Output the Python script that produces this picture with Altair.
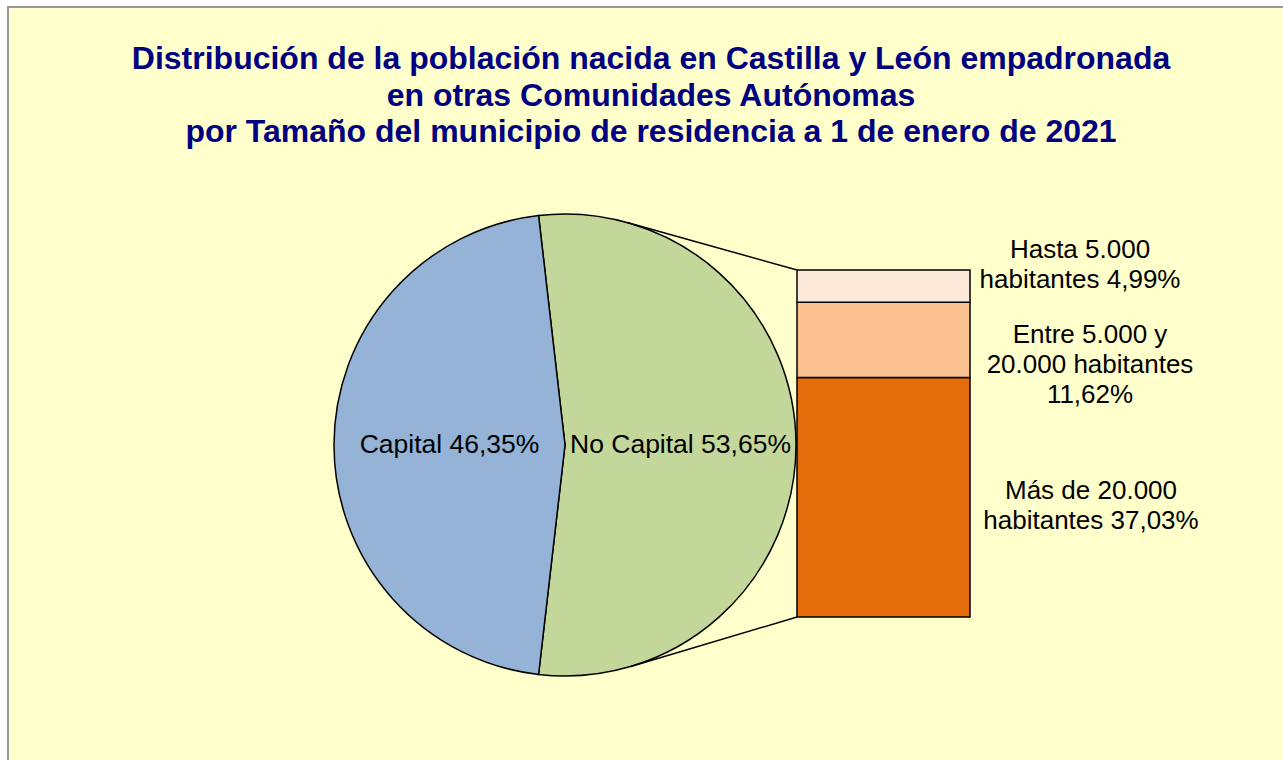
import math
import altair as alt
import pandas as pd

# ---------------- data ----------------
pie_names = ["No Capital", "Capital"]
pie_values = [53.65, 46.35]
pie_colors = ["#C4D79B", "#95B3D7"]

# breakdown of "No Capital" (bottom to top of the stacked bar)
bar_names = ["Más de 20.000 habitantes", "Entre 5.000 y 20.000 habitantes", "Hasta 5.000 habitantes"]
bar_values = [37.03, 11.62, 4.99]
bar_colors = ["#E46C0A", "#FAC090", "#FDE9D9"]
bar_label_lines = [
    ["Más de 20.000", "habitantes {v}"],
    ["Entre 5.000 y", "20.000 habitantes", "{v}"],
    ["Hasta 5.000", "habitantes {v}"],
]

title_lines = [
    "Distribución de la población nacida en Castilla y León empadronada",
    "en otras Comunidades Autónomas",
    "por Tamaño del municipio de residencia a 1 de enero de 2021",
]

def pct(v):
    return f"{v:.2f}".replace(".", ",") + "%"

# ---------------- layout (pixels) ----------------
W, H = 1283, 760
CX, CY, R = 565, 445, 231
BAR_X0, BAR_X1 = 797, 970
BAR_TOP, BAR_BOTTOM = 270, 617
FONT = "Liberation Sans"

# ---------------- tables ----------------
pie_df = pd.DataFrame({
    "name": pie_names,
    "value": pie_values,
    "orden": list(range(len(pie_names))),
})
pie_df["label"] = [f"{n} {pct(v)}" for n, v in zip(pie_names, pie_values)]

ends = pd.Series(bar_values).cumsum()
bar_df = pd.DataFrame({
    "seg": bar_names,
    "value": bar_values,
    "y0": ends - pd.Series(bar_values),
    "y1": ends,
})
bar_df["mid"] = (bar_df["y0"] + bar_df["y1"]) / 2
total = float(ends.iloc[-1])

# pie rotation: "No Capital" centred on the right (3 o'clock)
share_nc = pie_values[0] / sum(pie_values)
start = math.radians(90 - share_nc * 180) + 2 * math.pi
theta_scale = alt.Scale(domain=[0, sum(pie_values)], range=[start, start + 2 * math.pi])
y_scale = alt.Scale(domain=[0, total], range=[BAR_BOTTOM, BAR_TOP])

one = pd.DataFrame({"k": [0]})

# ---------------- layers ----------------
background = alt.Chart(one).mark_rect(
    fill="#FFFFCC", stroke="#979797", strokeWidth=2
).encode(x=alt.value(8), x2=alt.value(W + 50), y=alt.value(7), y2=alt.value(H + 50))

pie = alt.Chart(pie_df).mark_arc(
    outerRadius=R, stroke="black", strokeWidth=1.5
).encode(
    theta=alt.Theta("value:Q", stack=True, scale=theta_scale),
    color=alt.Color("name:N", scale=alt.Scale(domain=pie_names, range=pie_colors), legend=None),
    order=alt.Order("orden:Q"),
    x=alt.value(CX), y=alt.value(CY),
)

pie_text = alt.Chart(pie_df).mark_text(
    radius=R * 0.5, font=FONT, fontSize=26.5, color="black"
).encode(
    theta=alt.Theta("value:Q", stack=True, scale=theta_scale),
    order=alt.Order("orden:Q"),
    text="label:N",
    x=alt.value(CX), y=alt.value(CY),
)

bars = alt.Chart(bar_df).mark_rect(stroke="black", strokeWidth=1.5).encode(
    y=alt.Y("y0:Q", scale=y_scale, axis=None),
    y2="y1:Q",
    x=alt.value(BAR_X0), x2=alt.value(BAR_X1),
    fill=alt.Fill("seg:N", scale=alt.Scale(domain=bar_names, range=bar_colors), legend=None),
)

# connector lines: tangents from the bar corners to the pie
def tangent(px, py, upper):
    dx, dy = px - CX, py - CY
    d = math.hypot(dx, dy)
    phi = math.atan2(dy, dx)
    a = math.acos(R / d)
    ang = phi - a if upper else phi + a
    return CX + R * math.cos(ang), CY + R * math.sin(ang)

tx_top, ty_top = tangent(BAR_X0, BAR_TOP, True)
tx_bot, ty_bot = tangent(BAR_X0, BAR_BOTTOM, False)

rule_top = alt.Chart(pd.DataFrame({"v": [total]})).mark_rule(
    color="black", strokeWidth=1.5
).encode(y=alt.Y("v:Q", scale=y_scale, axis=None), y2=alt.value(ty_top),
         x=alt.value(BAR_X0), x2=alt.value(tx_top))
rule_bot = alt.Chart(pd.DataFrame({"v": [0.0]})).mark_rule(
    color="black", strokeWidth=1.5
).encode(y=alt.Y("v:Q", scale=y_scale, axis=None), y2=alt.value(ty_bot),
         x=alt.value(BAR_X0), x2=alt.value(tx_bot))

# labels for the bar segments
label_pos = {  # (x centre, dy from segment midpoint to first baseline)
    "Más de 20.000 habitantes": (1091, 2),
    "Entre 5.000 y 20.000 habitantes": (1090, 3),
    "Hasta 5.000 habitantes": (1080, -28),
}
bar_texts = []
for name, val, lines in zip(bar_names, bar_values, bar_label_lines):
    sub = bar_df[bar_df["seg"] == name]
    lx, ldy = label_pos[name]
    txt = [ln.format(v=pct(val)) for ln in lines]
    bar_texts.append(
        alt.Chart(sub).mark_text(
            text=txt, font=FONT, fontSize=26, color="black", align="center",
            baseline="alphabetic", lineHeight=30, dy=ldy
        ).encode(y=alt.Y("mid:Q", scale=y_scale, axis=None), x=alt.value(lx))
    )

title = alt.Chart(one).mark_text(
    text=title_lines, font=FONT, fontSize=32, fontWeight="bold", color="#000080",
    align="center", baseline="alphabetic", lineHeight=36.5
).encode(x=alt.value(651), y=alt.value(69))

chart = alt.layer(
    background, pie, rule_top, rule_bot, bars, pie_text, *bar_texts, title
).resolve_scale(color="independent", fill="independent").properties(
    width=W, height=H, autosize="none", padding=0, background="white"
).configure_view(stroke=None)

chart.save("out.html", embed_options={"renderer": "svg", "actions": False})
